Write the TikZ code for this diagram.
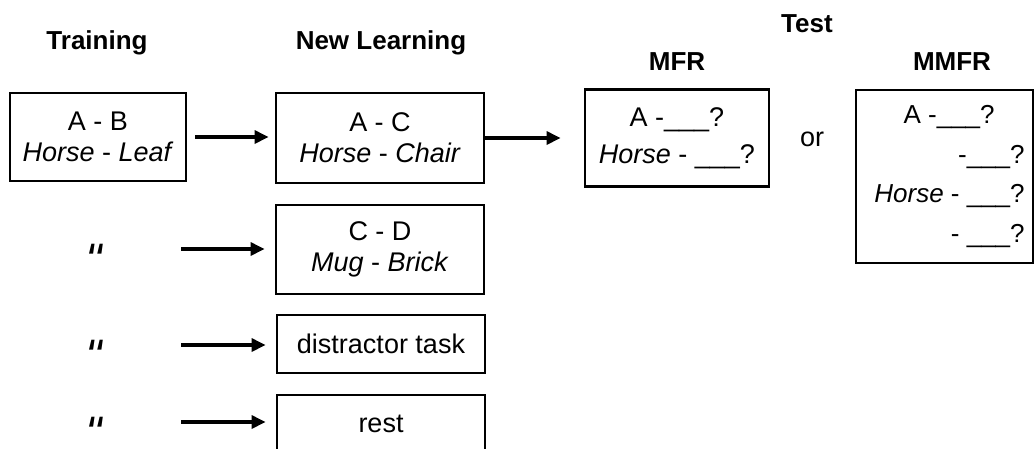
\documentclass[tikz,border=0pt]{standalone}
\usepackage{fontspec}
\usepackage{graphicx}
\setmainfont{Liberation Sans}
\newfontfamily\dittofont[Ligatures=TeXOff]{Liberation Sans}
\usetikzlibrary{arrows.meta}
% ditto mark, turned half round so that it sits on the middle of its line
\newcommand{\dittomark}{\raisebox{27pt}[6pt][6pt]{\rotatebox{180}{"}}}
\begin{document}
\begin{tikzpicture}[x=1pt,y=-1pt,
  every node/.style={font=\fontsize{27}{31}\selectfont, inner sep=0pt},
  stagebox/.style={draw, line width=2.8pt, align=center},
  heading/.style={font=\fontsize{26}{31}\selectfont\bfseries, anchor=base},
  arr/.style={line width=3.2pt, -{Triangle[length=14pt,width=13pt]}},
  ditto/.style={font=\dittofont\fontsize{46}{46}\selectfont\itshape}
]
\clip (0,0) rectangle (1035,448);

% column headings
\node[heading] (hTrain) at (97,49) {Training};
\node[heading] (hNew)   at (381,49) {New Learning};
\node[heading] (hTest)  at (807,32) {Test};
\node[heading] (hMFR)   at (677,70) {MFR};
\node[heading] (hMMFR)  at (952,70) {MMFR};

% training
\node[stagebox, minimum width=176pt, minimum height=88pt] (AB) at (98,137)
  {A - B\\\textit{Horse} - \textit{Leaf}};

% new learning conditions
\node[stagebox, minimum width=208pt, minimum height=90pt] (AC) at (380,138)
  {A - C\\\textit{Horse} - \textit{Chair}};
\node[stagebox, minimum width=208pt, minimum height=89pt] (CD) at (380,249.5)
  {C - D\\\textit{Mug} - \textit{Brick}};
\node[stagebox, minimum width=208pt, minimum height=58pt] (DT) at (381,344)
  {distractor task};
\node[stagebox, minimum width=208pt, minimum height=58pt] (RS) at (381,424)
  {rest};

% test forms
\node[stagebox, minimum width=184pt, minimum height=97pt,
      font=\fontsize{27}{37}\selectfont] (MFR) at (677,138)
  {A -\_\_\_?\\\textit{Horse} - \_\_\_?};
\node (orr) at (812,139) {or};
\node[stagebox, align=right, minimum width=177pt, minimum height=173pt,
      font=\fontsize{26}{39.5}\selectfont] (MMFR) at (944.5,176.5)
  {A -\_\_\_?\hspace*{30pt}\\
   -\_\_\_?\hspace*{30pt}\\
   \hspace*{10pt}\textit{Horse} - \_\_\_?\\
   - \_\_\_?};

% ditto marks for the repeated training phase
\node[ditto] (d1) at (99,249) {\dittomark};
\node[ditto] (d2) at (99,345) {\dittomark};
\node[ditto] (d3) at (99,422) {\dittomark};

% arrows
\draw[arr, shorten <=8pt, shorten >=6pt] (AB.east) -- (AB.east -| AC.west);
\draw[arr, shorten >=23pt] (AC.east) -- (AC.east -| MFR.west);
\draw[arr, shorten <=82pt, shorten >=10pt] (d1.center) -- (d1.center -| CD.west);
\draw[arr, shorten <=82pt, shorten >=10pt] (d2.center) -- (d2.center -| DT.west);
\draw[arr, shorten <=82pt, shorten >=10pt] (d3.center) -- (d3.center -| RS.west);
\end{tikzpicture}
\end{document}
